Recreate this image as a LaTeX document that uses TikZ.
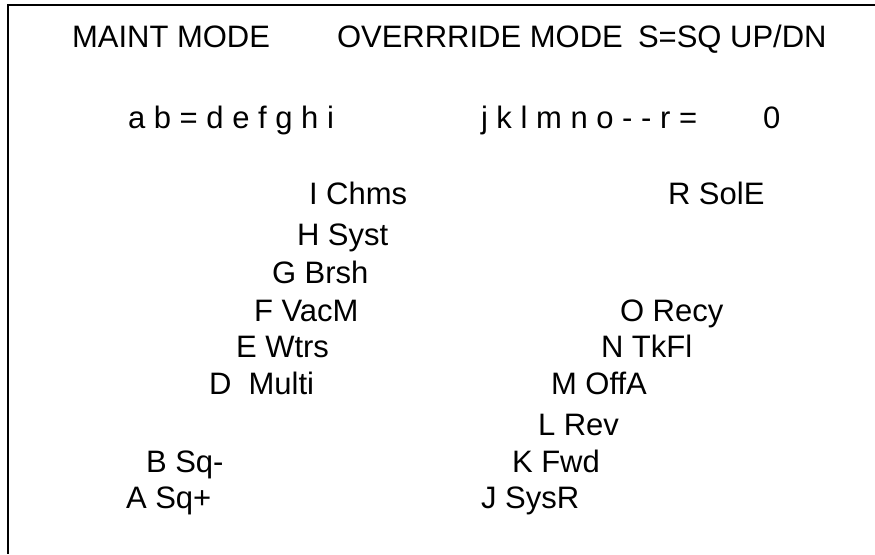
\documentclass[tikz,border=0pt]{standalone}
\usepackage{fontspec}
\setmainfont{Liberation Sans}
\usepackage{tikz}
\usetikzlibrary{positioning}
\usepackage{xcolor}
\definecolor{pnlblack}{RGB}{0,0,0}
\tikzstyle{readout} = [anchor=base west, inner sep=0pt, outer sep=0pt, text=pnlblack, font=\fontsize{31}{37}\selectfont]
\tikzstyle{frame} = [line width=2.5pt, color=pnlblack]

\begin{document}
\begin{tikzpicture}[x=1pt, y=-1pt]
\useasboundingbox (0,0) rectangle (875,554);
% Frame
\coordinate (topleft) at (8,5);
\coordinate (topright) at (875,5);
\coordinate (botleft) at (8,554);
\draw[frame] (topright) -- (topleft) -- (botleft);

% Header
\node (maint) [readout] at (72,47) {MAINT MODE};
\node (override) [readout] at (337,47) {OVERRRIDE MODE};
\node (sqkey) [readout] at (638,47) {S=SQ UP/DN};

% Status line
\node (lefttags) [readout] at (128,128) {a b = d e f g h i};
\node (righttags) [readout] at (481,128) {j k l m n o - - r =};
\node (count) [readout] at (763,128) {0};

% Left column
\node (chms) [readout] at (309,204) {I Chms};
\node (syst) [readout] at (297,245) {H Syst};
\node (brsh) [readout] at (272,283) {G Brsh};
\node (vacm) [readout] at (254,321) {F VacM};
\node (wtrs) [readout] at (236,357) {E Wtrs};
\node (multi) [readout] at (209,394) {D~ Multi};
\node (sqdn) [readout] at (146,472) {B Sq-};
\node (squp) [readout] at (126,508) {A Sq+};

% Right column
\node (sole) [readout] at (668,204) {R SolE};
\node (recy) [readout] at (620,321) {O Recy};
\node (tkfl) [readout] at (601,357) {N TkFl};
\node (offa) [readout] at (551,394) {M OffA};
\node (rev) [readout] at (538,435) {L Rev};
\node (fwd) [readout] at (512,472) {K Fwd};
\node (sysr) [readout] at (481,508) {J SysR};
\end{tikzpicture}
\end{document}
